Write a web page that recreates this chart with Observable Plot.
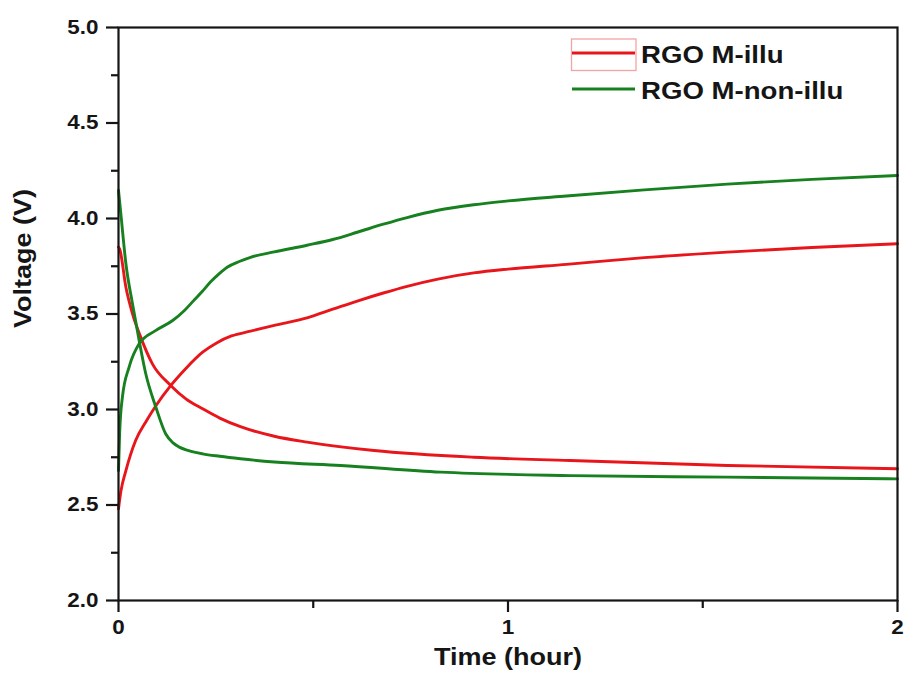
<!DOCTYPE html>
<html>
<head>
<meta charset="utf-8">
<script src="https://cdn.jsdelivr.net/npm/d3@7"></script>
<script src="https://cdn.jsdelivr.net/npm/@observablehq/plot@0.6"></script>
<style>
  body { margin: 0; background: #fff; }
  #wrap { position: relative; width: 904px; height: 682px; background: #fff; }
  #wrap svg.legend { position: absolute; left: 0; top: 0; pointer-events: none; }
</style>
</head>
<body>
<div id="wrap"></div>
<script>
// ---- data ----
const seriesNames = ["RGO M-illu", "RGO M-non-illu"];
const seriesColors = ["#e8161b", "#17801f"];

const xLabel = "Time (hour)";
const yLabel = "Voltage (V)";

const yMajorTicks = [2.0, 2.5, 3.0, 3.5, 4.0, 4.5, 5.0];
const yMinorTicks = [2.25, 2.75, 3.25, 3.75, 4.25, 4.75];
const xMajorTicks = [0, 1, 2];
const xMinorTicks = [0.5, 1.5];

// RGO M-illu, rising branch
const illuUpT = [0, 0.006, 0.019, 0.044, 0.07, 0.096, 0.134, 0.173, 0.216, 0.253, 0.29, 0.339, 0.4, 0.484, 0.55, 0.613, 0.68, 0.741, 0.82, 0.912, 1.0, 1.15, 1.35, 1.563, 1.78, 2.0];
const illuUpV = [2.48, 2.57, 2.68, 2.838, 2.935, 3.02, 3.125, 3.215, 3.30, 3.35, 3.385, 3.41, 3.44, 3.48, 3.525, 3.568, 3.61, 3.645, 3.683, 3.715, 3.735, 3.76, 3.795, 3.824, 3.848, 3.868];
// RGO M-illu, falling branch
const illuDownT = [0, 0.003, 0.019, 0.036, 0.057, 0.087, 0.134, 0.173, 0.216, 0.26, 0.313, 0.4, 0.484, 0.656, 0.912, 1.16, 1.563, 2.0];
const illuDownV = [3.85, 3.84, 3.64, 3.501, 3.379, 3.239, 3.126, 3.056, 3.004, 2.955, 2.91, 2.86, 2.829, 2.785, 2.75, 2.733, 2.707, 2.69];
// RGO M-non-illu, rising branch
const nonUpT = [0, 0.003, 0.01, 0.027, 0.053, 0.096, 0.139, 0.17, 0.193, 0.216, 0.236, 0.258, 0.279, 0.31, 0.339, 0.4, 0.484, 0.55, 0.613, 0.68, 0.741, 0.82, 0.912, 1.0, 1.15, 1.35, 1.563, 1.78, 2.0];
const nonUpV = [2.68, 2.88, 3.064, 3.221, 3.344, 3.414, 3.466, 3.52, 3.57, 3.62, 3.667, 3.71, 3.745, 3.775, 3.797, 3.825, 3.86, 3.89, 3.928, 3.97, 4.005, 4.043, 4.072, 4.092, 4.118, 4.15, 4.18, 4.205, 4.225];
// RGO M-non-illu, falling branch
const nonDownT = [0, 0.006, 0.019, 0.036, 0.053, 0.07, 0.096, 0.121, 0.14, 0.156, 0.18, 0.216, 0.26, 0.313, 0.4, 0.57, 0.827, 1.16, 1.563, 2.0];
const nonDownV = [4.147, 4.025, 3.763, 3.553, 3.361, 3.187, 3.012, 2.873, 2.825, 2.803, 2.785, 2.768, 2.755, 2.742, 2.725, 2.707, 2.672, 2.654, 2.646, 2.637];

// ---- build table ----
const rows = [];
function addCurve(series, branch, ts, vs) {
  ts.forEach((t, i) => rows.push({series, curve: series + " " + branch, t, v: vs[i]}));
}
addCurve(seriesNames[0], "up", illuUpT, illuUpV);
addCurve(seriesNames[0], "down", illuDownT, illuDownV);
addCurve(seriesNames[1], "up", nonUpT, nonUpV);
addCurve(seriesNames[1], "down", nonDownT, nonDownV);

const font = "'Liberation Sans', Arial, Helvetica, sans-serif";
const ink = "#151515";
const STRETCH = 1.15;

const chart = Plot.plot({
  width: 904,
  height: 682,
  marginLeft: 118,
  marginRight: 7,
  marginTop: 27,
  marginBottom: 82,
  style: {fontFamily: font, fontWeight: "bold", background: "#fff", color: ink, overflow: "visible"},
  x: {domain: [0, 2]},
  y: {domain: [2, 5]},
  color: {domain: seriesNames, range: seriesColors},
  marks: [
    Plot.line(rows, {x: "t", y: "v", z: "curve", stroke: "series", strokeWidth: 2.9, curve: "monotone-x"}),
    Plot.frame({stroke: ink, strokeWidth: 2.2}),
    Plot.axisY(yMajorTicks, {tickSize: 12, tickPadding: 8, tickFormat: d3.format(".1f"), fontSize: 19.5, stroke: ink, strokeWidth: 2.2, label: null}),
    Plot.axisY(yMinorTicks, {tickSize: 7, tickFormat: () => "", stroke: ink, strokeWidth: 2.2, label: null}),
    Plot.axisX(xMajorTicks, {tickSize: 12, tickPadding: 8, tickFormat: d3.format("d"), fontSize: 19.5, stroke: ink, strokeWidth: 2.2, label: null}),
    Plot.axisX(xMinorTicks, {tickSize: 8, tickFormat: () => "", stroke: ink, strokeWidth: 2.2, label: null}),
    Plot.text([xLabel], {frameAnchor: "bottom", text: d => d, lineAnchor: "top", dy: 48, fontSize: 23.5, fill: ink}),
    Plot.text([yLabel], {frameAnchor: "left", text: d => d, rotate: -90, dx: -95, dy: 14, fontSize: 23.5, fill: ink})
  ]
});

// widen glyphs along the text direction, as in the reference
chart.querySelectorAll("text").forEach(el => {
  const tr = el.getAttribute("transform") || "";
  el.setAttribute("transform", (tr + " scale(" + STRETCH + ",1)").trim());
});

const wrap = document.getElementById("wrap");
wrap.appendChild(chart);

// ---- legend (inside the plot, top right) ----
const leg = d3.select(wrap).append("svg")
  .attr("class", "legend")
  .attr("width", 904).attr("height", 682)
  .style("font-family", font).style("font-weight", "bold");

const legX0 = 572, legX1 = 635, legTextX = 641;
const legRowY = [53, 89];
// faint highlight box around the first swatch (present in the reference)
leg.append("rect")
  .attr("x", legX0 - 0.5).attr("y", 39).attr("width", legX1 - legX0 + 1.5).attr("height", 31.5)
  .attr("fill", "none").attr("stroke", "#f3a3a3").attr("stroke-width", 1.3);

seriesNames.forEach((name, i) => {
  const y = legRowY[i];
  leg.append("line")
    .attr("x1", legX0).attr("x2", legX1).attr("y1", y).attr("y2", y)
    .attr("stroke", seriesColors[i]).attr("stroke-width", 3);
  leg.append("text")
    .attr("transform", `translate(${legTextX},${y + 9.5}) scale(${STRETCH},1)`)
    .attr("font-size", 24).attr("fill", ink)
    .text(name);
});
</script>
</body>
</html>
